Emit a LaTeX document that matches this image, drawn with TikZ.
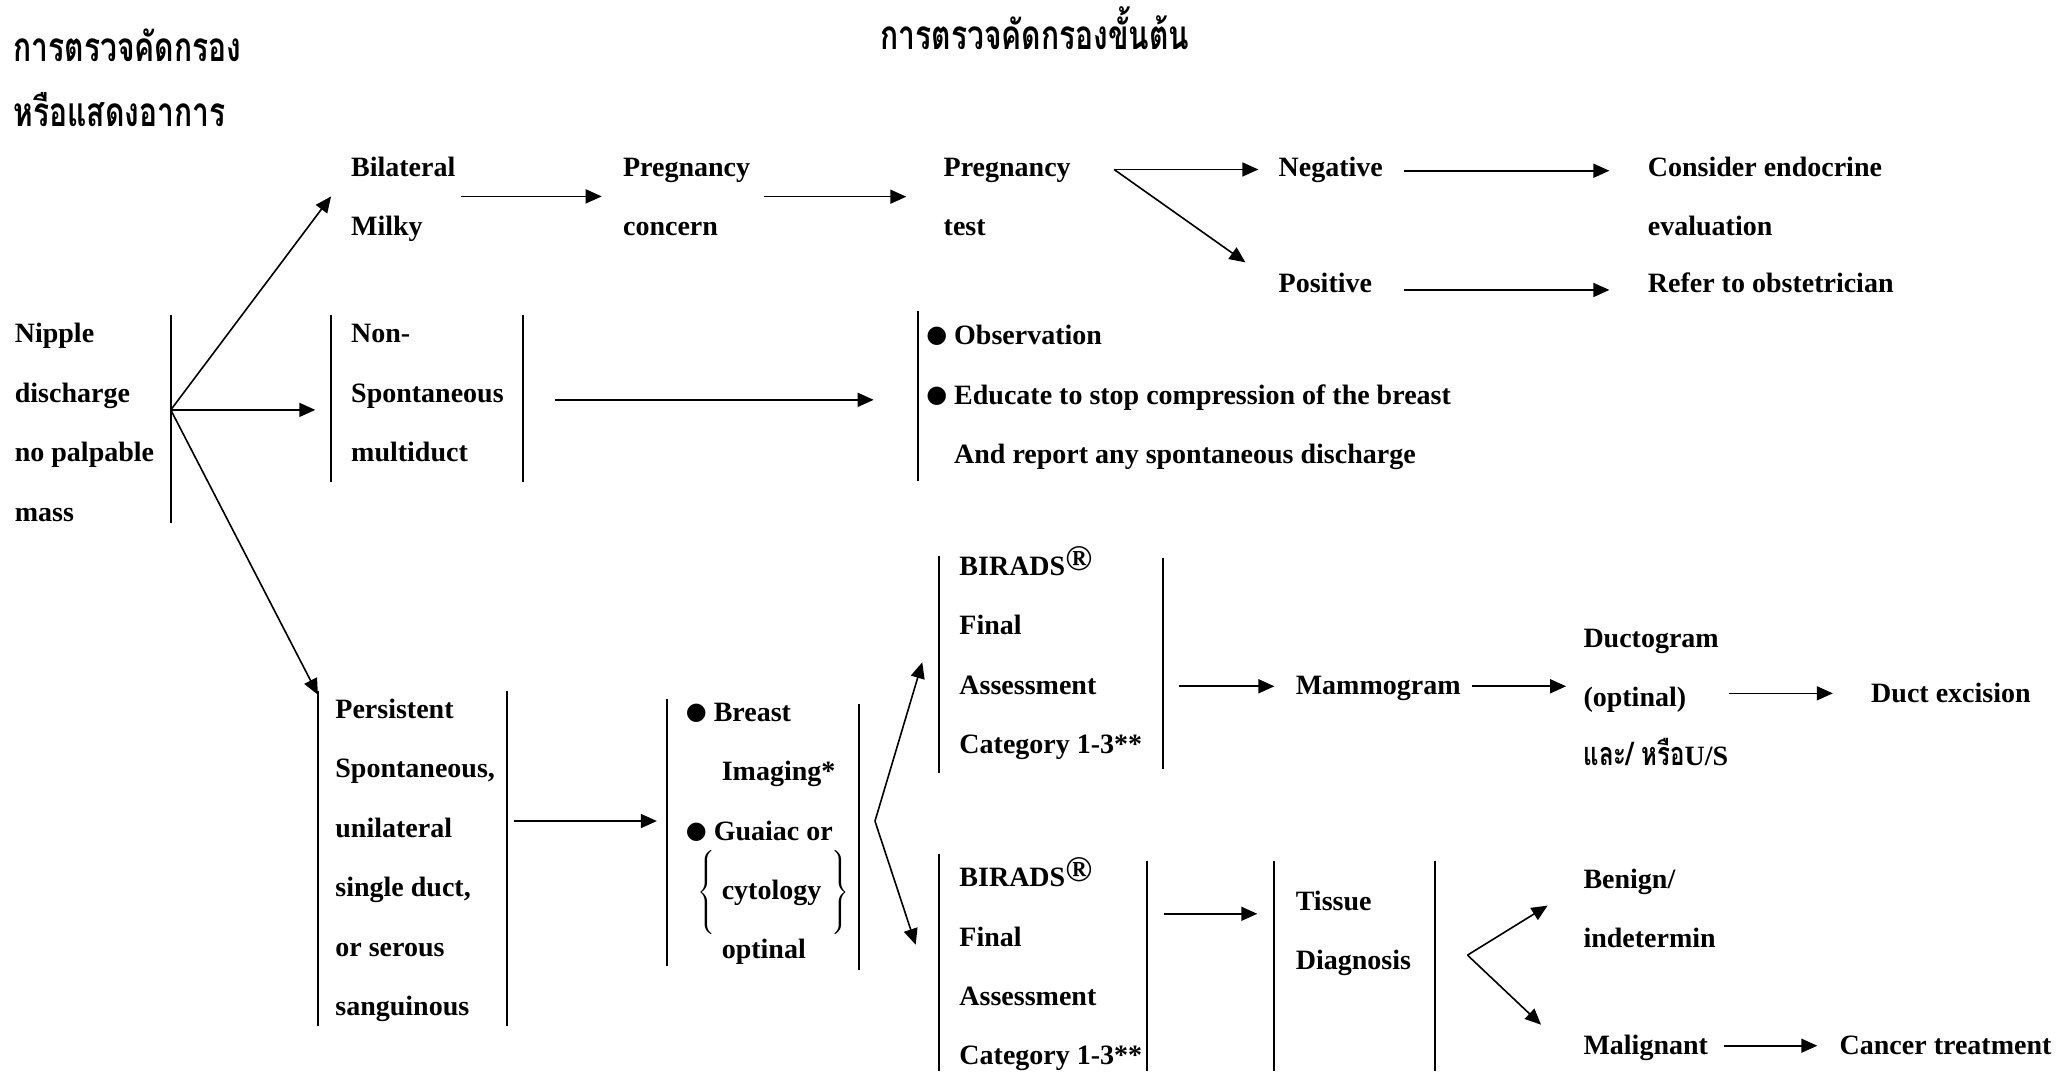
\documentclass[tikz,border=0pt]{standalone}
\usepackage{graphicx}
\usepackage{fontspec}
\setmainfont{Liberation Serif}
\newfontfamily\thaifont[Script=Thai]{Loma}
\newfontfamily\dingfont{DejaVu Sans}
\usetikzlibrary{arrows.meta,calc}

\newcommand{\dotitem}{\llap{\raisebox{1pt}{\dingfont\fontsize{12}{12}\selectfont ●}\hspace{3.5pt}}}
\newcommand{\regmark}{\raisebox{2.5pt}{\fontsize{18}{18}\selectfont ®}}
\newcommand{\lbrc}{\smash{\llap{$\left\{\vcenter{\hbox{\rule{0pt}{42pt}}}\right.$\hspace{2pt}}}}
\newcommand{\rbrc}{\smash{\rlap{\hspace{4pt}$\left.\vcenter{\hbox{\rule{0pt}{42pt}}}\right\}$}}}
\newcommand{\thaitall}[1]{\scalebox{1}[1.35]{#1}}

\begin{document}
\begin{tikzpicture}[x=0.6569pt,y=-0.6569pt,
    box/.style={inner sep=0pt,anchor=base west,align=left,
                font=\bfseries\fontsize{14}{29.7}\selectfont},
    head/.style={inner sep=0pt,anchor=base west,
                font=\thaifont\bfseries\fontsize{15}{15}\selectfont},
    bar/.style={line width=1pt},
    arr/.style={line width=0.8pt,-{Triangle[length=8pt,width=7pt]}}]
\useasboundingbox (0,0) rectangle (1568,818);

% headings
\node[head] (scrLeftA) at (10,47) {\thaitall{การตรวจคัดกรอง}};
\node[head] (scrLeftB) at (10,96) {\thaitall{หรือแสดงอาการ}};
\node[head] (scrTop) at (670,38) {\thaitall{การตรวจคัดกรองขั้นต้น}};

% text blocks (anchored at the baseline of their last line)
\node[box] (nipple) at (11,396.6) {Nipple\\discharge\\no palpable\\mass};
\node[box] (bilat) at (267,179.2) {Bilateral\\Milky};
\node[box] (pregc) at (474,179.2) {Pregnancy\\concern};
\node[box] (pregt) at (718,179.2) {Pregnancy\\test};
\node[box] (neg) at (973,134) {Negative};
\node[box] (pos) at (973,223) {Positive};
\node[box] (endo) at (1254,179.2) {Consider endocrine\\evaluation};
\node[box] (obst) at (1254,223) {Refer to obstetrician};
\node[box] (nonsp) at (267,351.4) {Non-\\Spontaneous\\multiduct};
\node[box] (observe) at (726,353) {\dotitem Observation\\\dotitem Educate to stop compression of the breast\\And report any spontaneous discharge};
\node[box] (persist) at (255,773) {Persistent\\Spontaneous,\\unilateral\\single duct,\\or serous\\sanguinous};
\node[box] (imaging) at (543,729.8) {\dotitem Breast\\\hspace*{4pt}Imaging*\\\dotitem Guaiac or\\\hspace*{4pt}\lbrc cytology\rbrc\\\hspace*{4pt}optinal};
\node[box] (biradsA) at (730,573.6) {BIRADS\regmark\\Final\\Assessment\\Category 1-3**};
\node[box] (mammo) at (986,529) {Mammogram};
\node[box] (ducto) at (1205,583) {Ductogram\\(optinal)\\{\thaifont\fontsize{12}{12}\selectfont\thaitall{และ/ หรือ}}U/S};
\node[box] (excis) at (1424,535) {Duct excision};
\node[box] (biradsB) at (730,810.6) {BIRADS\regmark\\Final\\Assessment\\Category 1-3**};
\node[box] (tissue) at (986,738.2) {Tissue\\Diagnosis};
\node[box] (benign) at (1205,721.2) {Benign/\\indetermin};
\node[box] (malig) at (1205,803) {Malignant};
\node[box] (cancer) at (1400,803) {Cancer treatment};

% side bars
\foreach \x/\ya/\yb in {130/240/398, 252/240/367, 398/240/367, 699/237/366,
    242/526/781, 386/526/781, 508/532/735, 654/536/738,
    715/423/588, 885/425/585, 715/650/815, 873/655/815, 970/655/815, 1092/655/815}
  \draw[bar] (\x,\ya) -- (\x,\yb);

% arrows
\coordinate (nipfan) at (130,312);
\coordinate (pregfan) at (848,129);
\coordinate (imgfan) at (666,625);
\coordinate (tisfan) at (1117,727);

\draw[arr] (nipfan) -- ($(bilat.west)+(-15,-2)$);
\draw[arr] (nipfan) -- ($(nipfan -| nonsp.west)+(-27,0)$);
\draw[arr] (nipfan) -- ($(persist.north west)+(-13,-3)$);
\draw[arr,shorten <=2.5pt,shorten >=10.5pt] ($(bilat.east)+(0,-2)$) -- ($(bilat.east -| pregc.west)+(0,-2)$);
\draw[arr,shorten <=6.5pt,shorten >=18.5pt] (pregc.east) -- (pregc.east -| pregt.west);
\draw[arr,shorten >=10pt] (pregfan) -- (pregfan -| neg.west);
\draw[arr] (pregfan) -- ($(pos.west)+(-25,-16)$);
\draw[arr] ($(neg.east)+(16,1)$) -- ($(neg.east -| endo.west)+(-29,1)$);
\draw[arr] ($(pos.east)+(24,5)$) -- ($(pos.east -| obst.west)+(-29,5)$);
\draw[arr] ($(nonsp.east)+(39,5)$) -- ($(nonsp.east -| observe.west)+(-61,5)$);
\draw[arr] ($(persist.east)+(14,-30)$) -- ($(persist.east -| imaging.west)+(-43,-30)$);
\draw[arr] (imgfan) -- ($(biradsA.west)+(-28,7)$);
\draw[arr] (imgfan) -- ($(biradsB.west)+(-33,-15)$);
\draw[arr,shorten >=10.5pt] ($(biradsA.east |- mammo.west)+(28,-2)$) -- ($(mammo.west)+(0,-2)$);
\draw[arr,shorten <=5.5pt,shorten >=8.5pt] ($(mammo.east)+(0,-2)$) -- ($(mammo.east -| ducto.west)+(0,-2)$);
\draw[arr,shorten >=19pt] (ducto.east |- excis.west) -- (excis.west);
\draw[arr] ($(biradsB.east |- tissue.west)+(16,-15)$) -- ($(tissue.west)+(-29,-15)$);
\draw[arr] (tisfan) -- ($(benign.west)+(-27,-2)$);
\draw[arr] (tisfan) -- ($(malig.west)+(-32,-18)$);
\draw[arr,shorten <=8pt,shorten >=11pt] ($(malig.east)+(0,-2)$) -- ($(malig.east -| cancer.west)+(0,-2)$);
\end{tikzpicture}
\end{document}
